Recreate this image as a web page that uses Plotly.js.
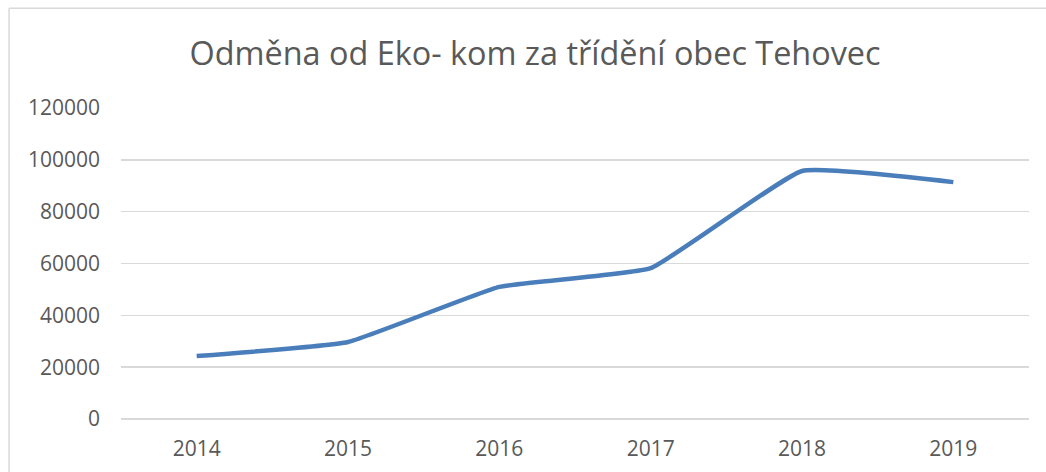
<!DOCTYPE html>
<html>
<head>
<meta charset="utf-8">
<script src="https://cdn.plot.ly/plotly-3.0.1.min.js"></script>
<style>html,body{margin:0;padding:0;background:#fff;}#chart{width:1046px;height:472px;}</style>
</head>
<body>
<div id="chart"></div>
<script>
var years = ['2014', '2015', '2016', '2017', '2018', '2019'];
var odmena = [24300, 29700, 51000, 58200, 95700, 91400];
var yTicks = [0, 20000, 40000, 60000, 80000, 100000, 120000];

var trace = {
  x: years,
  y: odmena,
  type: 'scatter',
  mode: 'lines',
  line: {color: '#4a7ebb', width: 4.5, shape: 'spline', smoothing: 0.35},
  hoverinfo: 'x+y'
};

var layout = {
  width: 1046,
  height: 472,
  margin: {l: 121, r: 17, t: 108, b: 53},
  paper_bgcolor: '#ffffff',
  plot_bgcolor: '#ffffff',
  showlegend: false,
  font: {family: '"Open Sans", sans-serif', color: '#595959'},
  title: {
    text: 'Odměna od Eko- kom za třídění obec Tehovec',
    font: {family: '"Open Sans", sans-serif', size: 32.4, color: '#595959'},
    x: 0.5115, xanchor: 'center', xref: 'container',
    y: 58, yref: 'container', yanchor: 'middle'
  },
  xaxis: {
    type: 'category',
    range: [-0.5, 5.5],
    showgrid: false,
    showline: false,
    zeroline: false,
    ticks: '',
    tickfont: {size: 21, color: '#595959'},
    ticklabelstandoff: 15
  },
  yaxis: {
    range: [0, 120000],
    tickvals: yTicks,
    ticktext: yTicks.map(String),
    showgrid: true,
    gridcolor: '#d9d9d9',
    gridwidth: 1.5,
    zeroline: true,
    zerolinecolor: '#d9d9d9',
    zerolinewidth: 1.5,
    showline: false,
    ticks: '',
    tickfont: {size: 21, color: '#595959'},
    ticklabelstandoff: 20
  },
  shapes: [
    {type: 'line', xref: 'paper', yref: 'paper', x0: -0.1233, x1: 1.03, y0: 1.321, y1: 1.321, line: {color: '#d9d9d9', width: 1.5}},
    {type: 'line', xref: 'paper', yref: 'paper', x0: -0.1233, x1: -0.1233, y0: 1.321, y1: -0.2, line: {color: '#d9d9d9', width: 1.5}}
  ]
};

Plotly.newPlot('chart', [trace], layout, {displayModeBar: false, staticPlot: true});
</script>
</body>
</html>
